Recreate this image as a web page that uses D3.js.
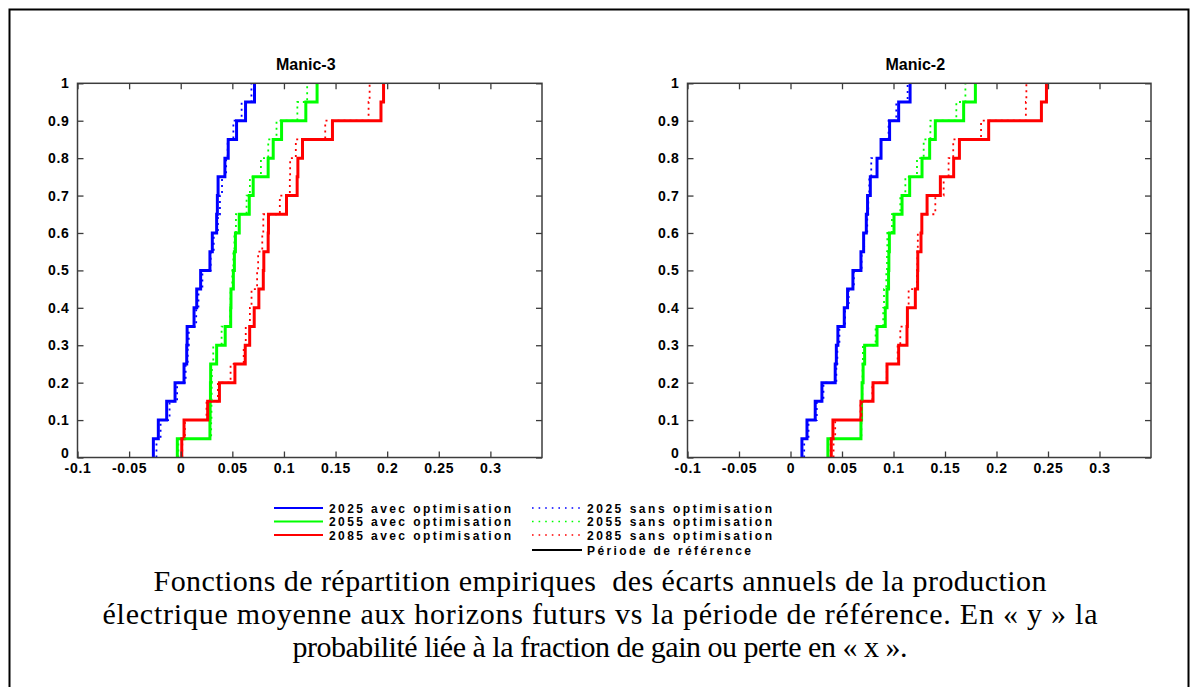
<!DOCTYPE html>
<html>
<head>
<meta charset="utf-8">
<script src="https://cdn.jsdelivr.net/npm/d3@7"></script>
<style>
  html, body { margin: 0; padding: 0; background: #fff; }
  svg { display: block; }
  .tick-label { font-family: "Liberation Sans", Arial, sans-serif; font-weight: bold; font-size: 14px; letter-spacing: 0.7px; }
  .panel-title { font-family: "Liberation Sans", Arial, sans-serif; font-weight: bold; font-size: 16px; }
  .legend-text { font-family: "Liberation Sans", Arial, sans-serif; font-weight: bold; font-size: 12px; }
  .caption { font-family: "Liberation Serif", "Times New Roman", serif; font-size: 30px; white-space: pre; }
</style>
</head>
<body>
<svg id="chart" width="1196" height="687"></svg>
<script>
'use strict';

// panels and axes
const panelTitles = ['Manic-3', 'Manic-2'];
const xTicks = [-0.1, -0.05, 0, 0.05, 0.1, 0.15, 0.2, 0.25, 0.3];
const yTicks = [0, 0.1, 0.2, 0.3, 0.4, 0.5, 0.6, 0.7, 0.8, 0.9, 1];
const xDomain = [-0.1, 0.35];
const yDomain = [0, 1];

// sorted annual samples (20 years)
const manic3_2025_avec = [-0.0265, -0.0217, -0.0136, -0.0055, 0.0032, 0.0058, 0.0062, 0.0129, 0.0155, 0.0193,
  0.0283, 0.0306, 0.0348, 0.0355, 0.0362, 0.0428, 0.046, 0.0541, 0.0628, 0.0715];
const manic3_2025_sans = [-0.0235, -0.0195, -0.0108, -0.0035, 0.0048, 0.0068, 0.0078, 0.0150, 0.0172, 0.021,
  0.029, 0.032, 0.036, 0.038, 0.040, 0.044, 0.0455, 0.051, 0.059, 0.0685];
const manic3_2055_avec = [-0.0033, 0.0283, 0.0285, 0.0288, 0.029, 0.0348, 0.0431, 0.0484, 0.0487, 0.051,
  0.052, 0.053, 0.0567, 0.0664, 0.0702, 0.0847, 0.0896, 0.0977, 0.1212, 0.1321];
const manic3_2055_sans = [-0.0023, 0.0295, 0.0298, 0.030, 0.0302, 0.0315, 0.0396, 0.048, 0.0483, 0.050,
  0.051, 0.052, 0.0535, 0.0638, 0.067, 0.0777, 0.0848, 0.0928, 0.113, 0.1225];
const manic3_2085_avec = [0.001, 0.0032, 0.0261, 0.0375, 0.0525, 0.0625, 0.0668, 0.0712, 0.0757, 0.080,
  0.0805, 0.0847, 0.085, 0.1025, 0.1128, 0.1135, 0.118, 0.147, 0.194, 0.1965];
const manic3_2085_sans = [0.0015, 0.004, 0.025, 0.036, 0.0483, 0.061, 0.063, 0.067, 0.0686, 0.074,
  0.075, 0.079, 0.080, 0.096, 0.1057, 0.106, 0.1115, 0.140, 0.182, 0.183];

const manic2_2025_avec = [0.0111, 0.016, 0.024, 0.0305, 0.0434, 0.0445, 0.046, 0.0522, 0.0554, 0.0606,
  0.0684, 0.071, 0.0736, 0.0748, 0.0775, 0.084, 0.0879, 0.0962, 0.105, 0.1161];
const manic2_2025_sans = [0.0133, 0.0175, 0.0255, 0.032, 0.0445, 0.0455, 0.0475, 0.053, 0.0565, 0.0615,
  0.069, 0.0715, 0.0745, 0.0755, 0.0765, 0.0784, 0.0879, 0.0952, 0.1027, 0.1137];
const manic2_2055_avec = [0.0363, 0.0684, 0.069, 0.0695, 0.0705, 0.072, 0.084, 0.092, 0.0937, 0.0952,
  0.0955, 0.096, 0.1005, 0.1083, 0.1157, 0.1277, 0.1351, 0.1406, 0.1681, 0.1795];
const manic2_2055_sans = [0.0369, 0.0688, 0.0692, 0.0697, 0.070, 0.0703, 0.0826, 0.090, 0.0908, 0.093,
  0.0937, 0.094, 0.0985, 0.1066, 0.1115, 0.1228, 0.1293, 0.1358, 0.161, 0.1698];
const manic2_2085_avec = [0.0396, 0.0412, 0.0684, 0.0801, 0.0937, 0.105, 0.1131, 0.1135, 0.1212, 0.1234,
  0.1236, 0.1267, 0.1275, 0.1326, 0.1455, 0.1584, 0.164, 0.1924, 0.2436, 0.2485];
const manic2_2085_sans = [0.0418, 0.0434, 0.068, 0.0795, 0.0935, 0.104, 0.1066, 0.1131, 0.1147, 0.1228,
  0.1232, 0.1236, 0.1277, 0.1406, 0.1487, 0.1535, 0.158, 0.185, 0.2285, 0.229];

const seriesNames = ['2025 avec optimisation', '2055 avec optimisation', '2085 avec optimisation',
  '2025 sans optimisation', '2055 sans optimisation', '2085 sans optimisation', 'Période de référence'];
const seriesColors = ['#0000ff', '#00ff00', '#ff0000', '#0000ff', '#00ff00', '#ff0000', '#000000'];
const seriesDotted = [false, false, false, true, true, true, false];

const captionLines = [
  'Fonctions de répartition empiriques  des écarts annuels de la production',
  'électrique moyenne aux horizons futurs vs la période de référence. En « y » la',
  'probabilité liée à la fraction de gain ou perte en « x ».'
];
const captionWidths = [893, 995, 615];

const panelData = [
  [manic3_2025_avec, manic3_2055_avec, manic3_2085_avec, manic3_2025_sans, manic3_2055_sans, manic3_2085_sans],
  [manic2_2025_avec, manic2_2055_avec, manic2_2085_avec, manic2_2025_sans, manic2_2055_sans, manic2_2085_sans]
];

const svg = d3.select('#chart');

svg.append('rect')
  .attr('x', 9.5).attr('y', 9.5)
  .attr('width', 1179).attr('height', 700)
  .attr('fill', 'none').attr('stroke', '#000').attr('stroke-width', 2);

const panelBoxes = [
  {left: 77.5, right: 542, top: 83.3, bottom: 457.5},
  {left: 687.5, right: 1151, top: 83.3, bottom: 457.5}
];

function tickText(d){
  return String(+d.toFixed(2));
}

// step path of an empirical cdf
function ecdfPoints(sample){
  let n = sample.length;
  let pts = [[sample[0], 0]];
  sample.forEach(function(v, i){
    pts.push([v, (i + 1) / n]);
    if(i < n - 1) pts.push([sample[i + 1], (i + 1) / n]);
  });
  return pts;
}

panelBoxes.forEach(function(box, p){
  let x = d3.scaleLinear().domain(xDomain).range([box.left, box.right]);
  let y = d3.scaleLinear().domain(yDomain).range([box.bottom, box.top]);
  let g = svg.append('g');

  g.append('clipPath').attr('id', 'clip-' + p)
    .append('rect')
    .attr('x', box.left).attr('y', box.top - 2)
    .attr('width', box.right - box.left).attr('height', box.bottom - box.top + 4);

  let line = d3.line().x(function(d){ return x(d[0]); }).y(function(d){ return y(d[1]); });

  panelData[p].forEach(function(sample, i){
    g.append('path')
      .attr('clip-path', 'url(#clip-' + p + ')')
      .attr('d', line(ecdfPoints(sample)))
      .attr('fill', 'none')
      .attr('stroke', seriesColors[i])
      .attr('stroke-width', seriesDotted[i] ? 1.8 : 3)
      .attr('stroke-dasharray', seriesDotted[i] ? '2,4' : null);
  });

  // box and inward ticks
  let axisColor = '#3c3c3c';
  g.append('rect')
    .attr('x', box.left).attr('y', box.top)
    .attr('width', box.right - box.left).attr('height', box.bottom - box.top)
    .attr('fill', 'none').attr('stroke', axisColor).attr('stroke-width', 1.5);

  let xAxisB = d3.axisBottom(x).tickValues(xTicks).tickSizeInner(-6).tickSizeOuter(0).tickFormat(tickText).tickPadding(6);
  let xAxisT = d3.axisTop(x).tickValues(xTicks).tickSizeInner(-6).tickSizeOuter(0).tickFormat('');
  let yAxisL = d3.axisLeft(y).tickValues(yTicks).tickSizeInner(-6).tickSizeOuter(0).tickFormat(tickText).tickPadding(8);
  let yAxisR = d3.axisRight(y).tickValues(yTicks).tickSizeInner(-6).tickSizeOuter(0).tickFormat('');

  [[xAxisB, 'translate(0,' + box.bottom + ')'], [xAxisT, 'translate(0,' + box.top + ')'],
   [yAxisL, 'translate(' + box.left + ',0)'], [yAxisR, 'translate(' + box.right + ',0)']]
    .forEach(function(a, k){
      let ag = g.append('g').attr('transform', a[1]).call(a[0]);
      ag.select('.domain').remove();
      ag.selectAll('line').attr('stroke', axisColor).attr('stroke-width', 1.3);
      ag.selectAll('text').attr('class', 'tick-label').attr('fill', '#000');
      // lift the y "0" a little so it clears the first x label
      if(k === 2) ag.selectAll('text').filter(function(d){ return d === 0; }).attr('y', -4);
    });

  g.append('text')
    .attr('class', 'panel-title')
    .attr('x', (box.left + box.right) / 2 - 4)
    .attr('y', 70)
    .attr('text-anchor', 'middle')
    .text(panelTitles[p]);
});

// legend
const legendCols = [
  {lineX: [274, 323], textX: 329},
  {lineX: [532, 582], textX: 587}
];
const legendRows = [508, 521.5, 535, 550];
const legendWidths = [182, 182, 182, 185, 185, 185, 164];

seriesNames.forEach(function(name, i){
  let col = i < 3 ? legendCols[0] : legendCols[1];
  let row = i < 3 ? legendRows[i] : legendRows[i - 3];
  let lg = svg.append('g');
  lg.append('line')
    .attr('x1', col.lineX[0]).attr('x2', col.lineX[1])
    .attr('y1', row).attr('y2', row)
    .attr('stroke', seriesColors[i])
    .attr('stroke-width', seriesDotted[i] ? 1.6 : 2)
    .attr('stroke-dasharray', seriesDotted[i] ? '1.6,5' : null);
  lg.append('text')
    .attr('class', 'legend-text')
    .attr('x', col.textX).attr('y', row + 4.5)
    .attr('textLength', legendWidths[i])
    .attr('lengthAdjust', 'spacing')
    .text(name);
});

// caption
svg.selectAll('.caption')
  .data(captionLines)
  .enter().append('text')
  .attr('class', 'caption')
  .attr('x', 600)
  .attr('y', function(d, i){ return 591 + i * 33; })
  .attr('text-anchor', 'middle')
  .attr('textLength', function(d, i){ return captionWidths[i]; })
  .attr('lengthAdjust', 'spacing')
  .text(function(d){ return d; });
</script>
</body>
</html>
